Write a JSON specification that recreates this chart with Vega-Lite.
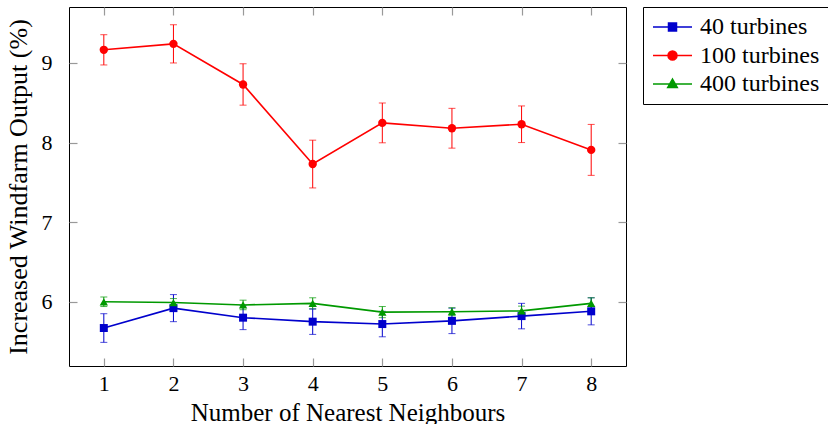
{
  "$schema": "https://vega.github.io/schema/vega-lite/v6.json",
  "width": 557,
  "height": 359,
  "autosize": "none",
  "padding": {"left": 69, "top": 7, "right": 202, "bottom": 58},
  "background": "white",
  "config": {
    "font": "Liberation Serif, Times New Roman, serif",
    "view": {"stroke": "black", "strokeWidth": 1},
    "axis": {
      "grid": false,
      "domain": false,
      "labelFont": "Liberation Serif, Times New Roman, serif",
      "labelFontSize": 22,
      "labelColor": "black",
      "titleFont": "Liberation Serif, Times New Roman, serif",
      "titleFontSize": 25,
      "titleFontWeight": "normal",
      "titleColor": "black",
      "tickColor": "#999999",
      "tickWidth": 1.2,
      "tickSize": -8
    }
  },
  "data": {
    "values": [
      {"n": 1, "series": "40 turbines", "y": 5.67, "err": 0.18},
      {"n": 2, "series": "40 turbines", "y": 5.92, "err": 0.17},
      {"n": 3, "series": "40 turbines", "y": 5.8, "err": 0.15},
      {"n": 4, "series": "40 turbines", "y": 5.75, "err": 0.16},
      {"n": 5, "series": "40 turbines", "y": 5.72, "err": 0.16},
      {"n": 6, "series": "40 turbines", "y": 5.76, "err": 0.16},
      {"n": 7, "series": "40 turbines", "y": 5.82, "err": 0.16},
      {"n": 8, "series": "40 turbines", "y": 5.88, "err": 0.17},
      {"n": 1, "series": "100 turbines", "y": 9.165, "err": 0.19},
      {"n": 2, "series": "100 turbines", "y": 9.24, "err": 0.24},
      {"n": 3, "series": "100 turbines", "y": 8.73, "err": 0.26},
      {"n": 4, "series": "100 turbines", "y": 7.73, "err": 0.3},
      {"n": 5, "series": "100 turbines", "y": 8.247, "err": 0.25},
      {"n": 6, "series": "100 turbines", "y": 8.18, "err": 0.25},
      {"n": 7, "series": "100 turbines", "y": 8.23, "err": 0.23},
      {"n": 8, "series": "100 turbines", "y": 7.908, "err": 0.32},
      {"n": 1, "series": "400 turbines", "y": 6.0, "err": 0.06},
      {"n": 2, "series": "400 turbines", "y": 5.99, "err": 0.05},
      {"n": 3, "series": "400 turbines", "y": 5.96, "err": 0.06},
      {"n": 4, "series": "400 turbines", "y": 5.98, "err": 0.07},
      {"n": 5, "series": "400 turbines", "y": 5.87, "err": 0.07},
      {"n": 6, "series": "400 turbines", "y": 5.875, "err": 0.05},
      {"n": 7, "series": "400 turbines", "y": 5.885, "err": 0.06},
      {"n": 8, "series": "400 turbines", "y": 5.98, "err": 0.07}
    ]
  },
  "layer": [
    {
      "mark": {"type": "errorbar", "ticks": {"size": 7}, "thickness": 1},
      "encoding": {
        "x": {"field": "n", "type": "quantitative", "scale": {"domain": [0.5, 8.5], "nice": false},
          "axis": {"orient": "bottom", "values": [1, 2, 3, 4, 5, 6, 7, 8], "format": "d", "title": "Number of Nearest Neighbours", "labelPadding": 15, "titlePadding": 6}},
        "y": {"field": "y", "type": "quantitative", "scale": {"domain": [5.193, 9.703], "nice": false, "zero": false},
          "axis": {"orient": "left", "values": [6, 7, 8, 9], "format": "d", "title": "Increased Windfarm Output (%)", "titleFontSize": 26, "labelPadding": 25, "titlePadding": 10}},
        "yError": {"field": "err"},
        "color": {"field": "series", "type": "nominal",
          "scale": {"domain": ["40 turbines", "100 turbines", "400 turbines"], "range": ["#0000cc", "#ff0000", "#009900"]},
          "legend": {
            "orient": "none", "legendX": 574, "legendY": 0, "title": null,
            "strokeColor": "black", "fillColor": "white", "padding": 8,
            "labelFont": "Liberation Serif, Times New Roman, serif", "labelFontSize": 24, "labelColor": "black", "labelOffset": 25, "labelLimit": 300,
            "symbolSize": 400, "symbolStrokeWidth": 1.5, "rowPadding": 4.5,
            "encode": {"symbols": {"update": {
              "shape": {"signal": "datum.value === '40 turbines' ? 'M-1,0H2.9M0.55,-0.4H1.35V0.4H0.55Z' : datum.value === '100 turbines' ? 'M-1,0H2.9M0.5,0A0.45,0.45 0 1,0 1.4,0A0.45,0.45 0 1,0 0.5,0Z' : 'M-1,0H2.9M0.95,-0.5L1.43,0.35L0.47,0.35Z'"},
              "fill": {"scale": "color", "field": "value"},
              "stroke": {"scale": "color", "field": "value"},
              "fillOpacity": {"value": 1},
              "opacity": {"value": 1}
            }}}
          }}
      }
    },
    {
      "mark": {"type": "line", "strokeWidth": 1.6},
      "encoding": {
        "x": {"field": "n", "type": "quantitative", "axis": null},
        "y": {"field": "y", "type": "quantitative", "axis": null},
        "color": {"field": "series", "type": "nominal"}
      }
    },
    {
      "transform": [{"filter": "datum.series === '40 turbines'"}],
      "mark": {"type": "point", "filled": true, "opacity": 1, "size": 64, "shape": "square"},
      "encoding": {
        "x": {"field": "n", "type": "quantitative", "axis": null},
        "y": {"field": "y", "type": "quantitative", "axis": null},
        "color": {"field": "series", "type": "nominal"}
      }
    },
    {
      "transform": [{"filter": "datum.series === '100 turbines'"}],
      "mark": {"type": "point", "filled": true, "opacity": 1, "size": 70, "shape": "circle"},
      "encoding": {
        "x": {"field": "n", "type": "quantitative", "axis": null},
        "y": {"field": "y", "type": "quantitative", "axis": null},
        "color": {"field": "series", "type": "nominal"}
      }
    },
    {
      "transform": [{"filter": "datum.series === '400 turbines'"}],
      "mark": {"type": "point", "filled": true, "opacity": 1, "size": 70, "shape": "triangle-up"},
      "encoding": {
        "x": {"field": "n", "type": "quantitative", "axis": null},
        "y": {"field": "y", "type": "quantitative", "axis": null},
        "color": {"field": "series", "type": "nominal"}
      }
    },
    {
      "mark": {"type": "point", "opacity": 0},
      "encoding": {
        "x": {"field": "n", "type": "quantitative", "axis": {"orient": "top", "values": [1, 2, 3, 4, 5, 6, 7, 8], "labels": false, "title": null}},
        "y": {"field": "y", "type": "quantitative", "axis": {"orient": "right", "values": [6, 7, 8, 9], "labels": false, "title": null}}
      }
    }
  ],
  "resolve": {"axis": {"x": "independent", "y": "independent"}}
}
